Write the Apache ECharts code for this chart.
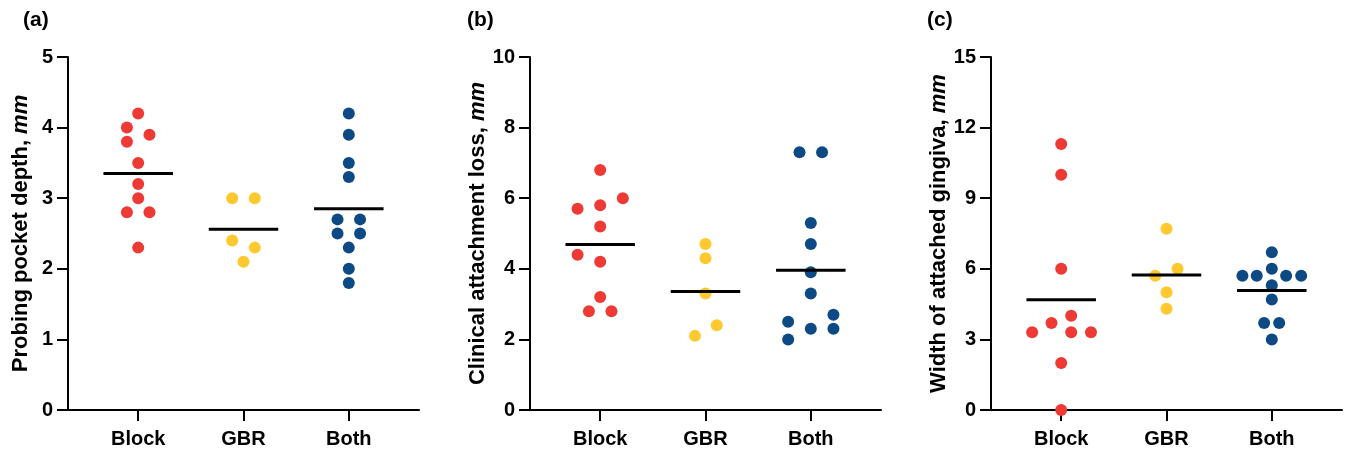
<!DOCTYPE html>
<html>
<head>
<meta charset="utf-8">
<script src="https://cdn.jsdelivr.net/npm/echarts@6/dist/echarts.min.js"></script>
<style>
  html, body { margin: 0; padding: 0; background: #fff; }
  #chart { width: 1348px; height: 452px; }
</style>
</head>
<body>
<div id="chart"></div>
<script>
// categories and colours
var groups = ['Block', 'GBR', 'Both'];
var groupColors = ['#ee3a35', '#fec92f', '#0d4a84'];

// (a) probing pocket depth
var pdBlock = [4.2, 4.0, 3.9, 3.8, 3.5, 3.2, 3.0, 2.8, 2.8, 2.3];
var pdGbr = [3.0, 3.0, 2.4, 2.3, 2.1];
var pdBoth = [4.2, 3.9, 3.5, 3.3, 2.7, 2.7, 2.5, 2.5, 2.3, 2.0, 1.8];
var pdMeans = [3.35, 2.56, 2.85];

// (b) clinical attachment loss
var calBlock = [6.8, 6.0, 5.8, 5.7, 5.2, 4.4, 4.2, 3.2, 2.8, 2.8];
var calGbr = [4.7, 4.3, 3.3, 2.4, 2.1];
var calBoth = [7.3, 7.3, 5.3, 4.7, 3.9, 3.3, 2.7, 2.5, 2.3, 2.3, 2.0];
var calMeans = [4.69, 3.36, 3.96];

// (c) width of attached gingiva
var wagBlock = [11.3, 10.0, 6.0, 4.0, 3.7, 3.3, 3.3, 3.3, 2.0, 0];
var wagGbr = [7.7, 6.0, 5.7, 5.0, 4.3];
var wagBoth = [6.7, 6.0, 5.7, 5.7, 5.7, 5.7, 5.3, 4.7, 3.7, 3.7, 3.0];
var wagMeans = [4.69, 5.74, 5.08];

// horizontal scatter of the dots (in category widths)
var pdJitter = [
  [0, -0.107, 0.107, -0.107, 0, 0, 0, -0.107, 0.107, 0],
  [-0.107, 0.107, -0.107, 0.107, 0],
  [0, 0, 0, 0, -0.107, 0.107, -0.107, 0.107, 0, 0, 0]
];
var calJitter = [
  [0, 0.215, 0, -0.215, 0, -0.215, 0, 0, -0.107, 0.107],
  [0, 0, 0, 0.107, -0.1],
  [-0.107, 0.107, 0, 0, 0, 0, 0.215, -0.215, 0, 0.215, -0.215]
];
var wagJitter = [
  [0, 0, 0, 0.095, -0.092, -0.276, 0.095, 0.283, 0, 0],
  [0, 0.105, -0.107, 0, 0],
  [0, 0, -0.279, -0.143, 0.136, 0.279, 0, 0, -0.073, 0.07, 0]
];

var yTitles = ['Probing pocket depth, {i|mm}', 'Clinical attachment loss, {i|mm}', 'Width of attached gingiva, {i|mm}'];
var yMax = [5, 10, 15];
var yStep = [1, 2, 3];
var panelTags = ['(a)', '(b)', '(c)'];

var panels = [
  { data: [pdBlock, pdGbr, pdBoth], jitter: pdJitter, means: pdMeans },
  { data: [calBlock, calGbr, calBoth], jitter: calJitter, means: calMeans },
  { data: [wagBlock, wagGbr, wagBoth], jitter: wagJitter, means: wagMeans }
];

var gridLefts = [68, 530, 991];
var tagLefts = [18, 462, 922];
var font = 'Liberation Sans, Arial, sans-serif';

var grids = [], xAxes = [], yAxes = [], series = [], titles = [];

panels.forEach(function (p, k) {
  grids.push({ left: gridLefts[k], top: 57, width: 351, height: 353 });
  titles.push({
    text: panelTags[k], left: tagLefts[k], top: 5,
    textStyle: { fontFamily: font, fontSize: 21, fontWeight: 'bold', color: '#000' }
  });
  xAxes.push({
    type: 'value', gridIndex: k, min: -2 / 3, max: 8 / 3,
    splitLine: { show: false },
    axisLine: { onZero: false, lineStyle: { color: '#000', width: 2 } },
    axisTick: { customValues: [0, 1, 2], length: 11, lineStyle: { color: '#000', width: 2 } },
    axisLabel: {
      customValues: [0, 1, 2], margin: 19,
      formatter: function (v) { return groups[Math.round(v)]; },
      fontFamily: font, fontSize: 20, fontWeight: 'bold', color: '#000'
    }
  });
  yAxes.push({
    type: 'value', gridIndex: k, min: 0, max: yMax[k], interval: yStep[k],
    splitLine: { show: false },
    axisLine: { show: true, onZero: false, lineStyle: { color: '#000', width: 2 } },
    axisTick: { show: true, length: 11, lineStyle: { color: '#000', width: 2 } },
    axisLabel: { margin: 15, fontFamily: font, fontSize: 20, fontWeight: 'bold', color: '#000' },
    name: yTitles[k], nameLocation: 'middle', nameRotate: 90, nameGap: 36,
    nameTextStyle: {
      fontFamily: font, fontSize: 22, fontWeight: 'bold', color: '#000',
      rich: { i: { fontFamily: font, fontSize: 22, fontWeight: 'bold', fontStyle: 'italic', color: '#000' } }
    }
  });
  p.data.forEach(function (vals, g) {
    series.push({
      type: 'scatter', xAxisIndex: k, yAxisIndex: k,
      symbolSize: 12, itemStyle: { color: groupColors[g], opacity: 1 },
      data: vals.map(function (v, i) { return [g + p.jitter[g][i], v]; }),
      z: 2
    });
    series.push({
      type: 'line', xAxisIndex: k, yAxisIndex: k, showSymbol: false,
      lineStyle: { color: '#000', width: 3 },
      data: [[g - 0.33, p.means[g]], [g + 0.33, p.means[g]]],
      z: 3
    });
  });
});

var chart = echarts.init(document.getElementById('chart'));
chart.setOption({
  animation: false,
  title: titles,
  grid: grids,
  xAxis: xAxes,
  yAxis: yAxes,
  series: series
});
</script>
</body>
</html>
